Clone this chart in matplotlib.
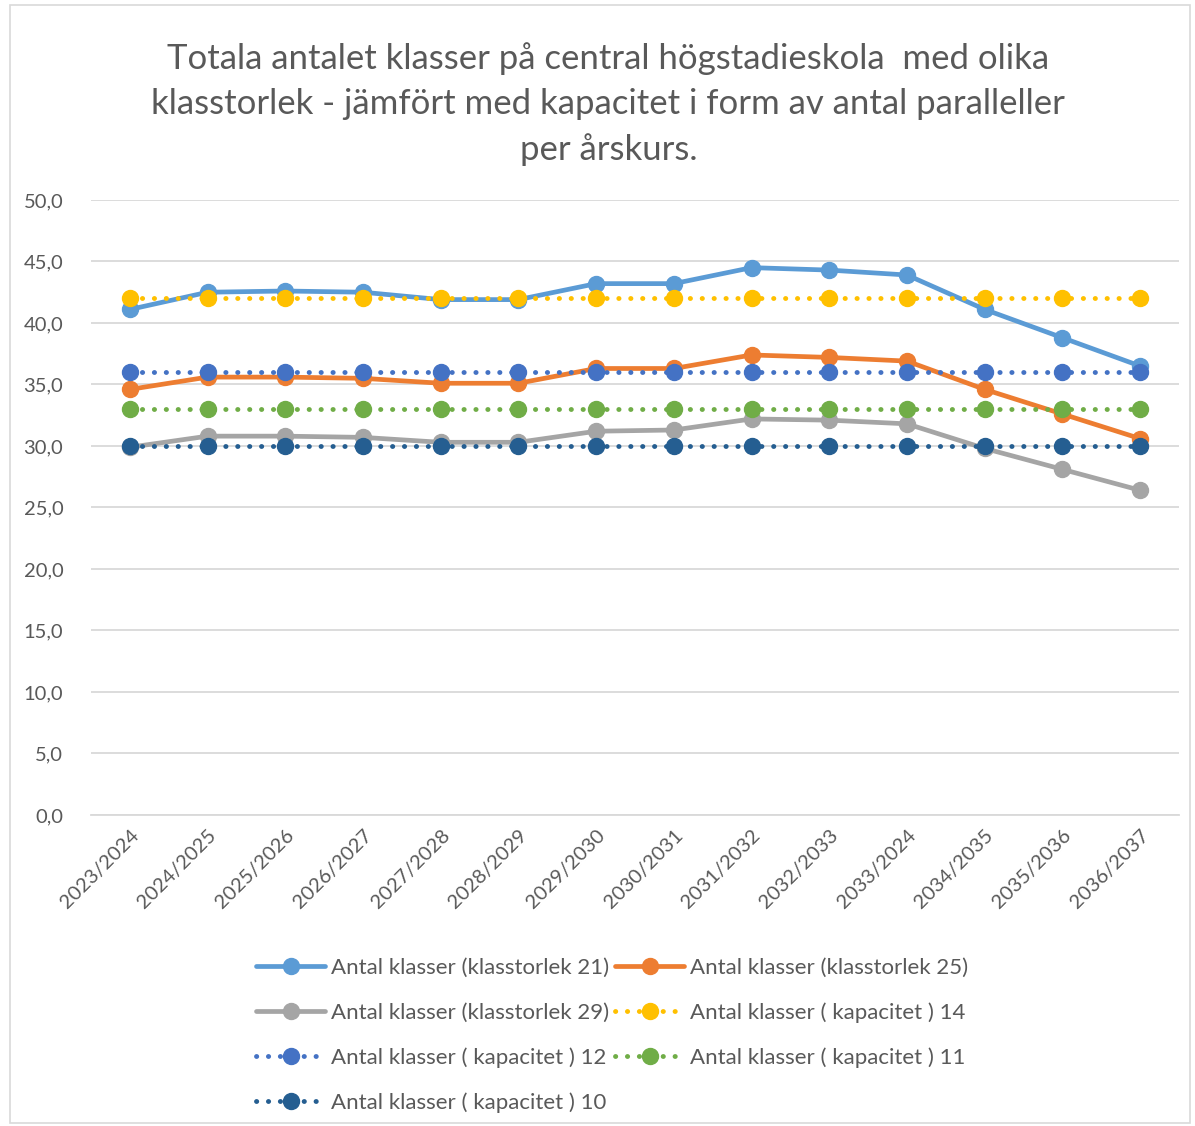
import matplotlib.pyplot as plt
from matplotlib.patches import Rectangle
from matplotlib.ticker import FuncFormatter

plt.rcParams['font.family'] = ['Lato', 'DejaVu Sans']

years = ['2023/2024', '2024/2025', '2025/2026', '2026/2027', '2027/2028', '2028/2029', '2029/2030',
         '2030/2031', '2031/2032', '2032/2033', '2033/2024', '2034/2035', '2035/2036', '2036/2037']

klass21 = [41.1, 42.5, 42.6, 42.5, 41.9, 41.9, 43.2, 43.2, 44.5, 44.3, 43.9, 41.1, 38.8, 36.5]
klass25 = [34.6, 35.6, 35.6, 35.5, 35.1, 35.1, 36.3, 36.3, 37.4, 37.2, 36.9, 34.6, 32.6, 30.6]
klass29 = [29.9, 30.8, 30.8, 30.7, 30.3, 30.3, 31.2, 31.3, 32.2, 32.1, 31.8, 29.8, 28.1, 26.4]
kap14 = [42.0] * 14
kap12 = [36.0] * 14
kap11 = [33.0] * 14
kap10 = [30.0] * 14

solid = [
    ('Antal klasser (klasstorlek 21)', klass21, '#5B9BD5'),
    ('Antal klasser (klasstorlek 25)', klass25, '#ED7D31'),
    ('Antal klasser (klasstorlek 29)', klass29, '#A5A5A5'),
]
dotted = [
    ('Antal klasser ( kapacitet ) 14', kap14, '#FFC000'),
    ('Antal klasser ( kapacitet ) 12', kap12, '#4472C4'),
    ('Antal klasser ( kapacitet ) 11', kap11, '#70AD47'),
    ('Antal klasser ( kapacitet ) 10', kap10, '#255E91'),
]

fig = plt.figure(figsize=(11.95, 11.26), dpi=100)
ax = fig.add_axes([0.0762, 0.2762, 0.9104, 0.5462])

x = list(range(len(years)))
handles = {}
for name, vals, col in solid:
    h, = ax.plot(x, vals, color=col, lw=3.4, marker='o', ms=11.5, solid_capstyle='round', label=name)
    handles[name] = h
for name, vals, col in dotted:
    h, = ax.plot(x, vals, color=col, lw=3.5, marker='o', ms=11.5,
                 linestyle=(0, (0.05, 2.4)), dash_capstyle='round', label=name)
    handles[name] = h

ax.set_xlim(-0.5, len(years) - 0.5)
ax.set_ylim(0, 50)
ax.set_yticks(range(0, 51, 5))
ax.yaxis.set_major_formatter(FuncFormatter(lambda v, p: f'{v:.1f}'.replace('.', ',')))
ax.set_xticks(x)
ax.set_xticklabels(years, rotation=45, ha='right', rotation_mode='anchor')
ax.grid(axis='y', color='#D9D9D9', lw=1.3)
ax.set_axisbelow(True)
for s in ['top', 'right', 'left']:
    ax.spines[s].set_visible(False)
ax.spines['bottom'].set_color('#D9D9D9')
ax.spines['bottom'].set_linewidth(1.3)
ax.tick_params(axis='both', length=0, labelsize=14.5, labelcolor='#595959')
ax.tick_params(axis='y', pad=20)
ax.tick_params(axis='x', pad=8)

fig.text(0.509, 0.963, 'Totala antalet klasser på central högstadieskola  med olika\n'
         'klasstorlek - jämfört med kapacitet i form av antal paralleller\nper årskurs.',
         ha='center', va='top', fontsize=25, color='#595959', linespacing=1.5)

order = ['Antal klasser (klasstorlek 21)', 'Antal klasser (klasstorlek 29)',
         'Antal klasser ( kapacitet ) 12', 'Antal klasser ( kapacitet ) 10',
         'Antal klasser (klasstorlek 25)', 'Antal klasser ( kapacitet ) 14',
         'Antal klasser ( kapacitet ) 11']
leg = fig.legend([handles[n] for n in order], order, ncol=2, loc='upper left',
                 bbox_to_anchor=(0.207, 0.157), frameon=False, fontsize=16,
                 handlelength=3.1, handletextpad=0.25, columnspacing=0.3,
                 labelspacing=1.1, labelcolor='#595959', borderaxespad=0)

fig.patches.append(Rectangle((0.008, 0.003), 0.988, 0.993, transform=fig.transFigure,
                             fill=False, edgecolor='#D9D9D9', lw=1.2))

fig.savefig('out.png', dpi=100)
